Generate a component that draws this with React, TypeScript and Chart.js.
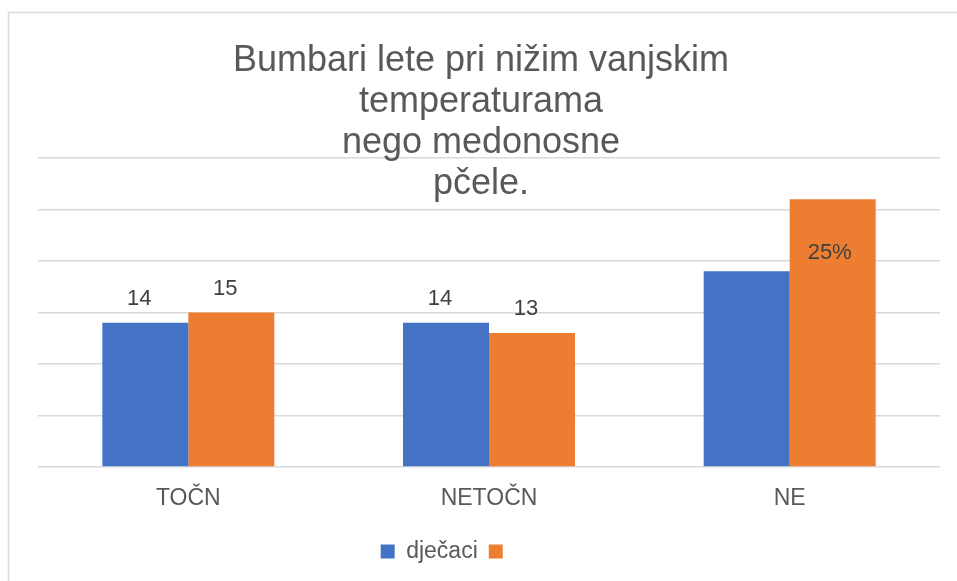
import React, { useEffect, useRef } from "react";
import { Chart, registerables } from "chart.js";

Chart.register(...registerables);

const categories = ["TOČN", "NETOČN", "NE"];
const seriesNames = ["dječaci", "             "];
const boysValues = [14, 14, 19];
const otherValues = [15, 13, 26];
const boysLabels = ["14", "14", ""];
const otherLabels = ["15", "13", "25%"];
const titleLines = ["Bumbari lete pri nižim vanjskim", "temperaturama", "nego medonosne", "pčele."];
const yTicks = [0, 5, 10, 15, 20, 25, 30];

const FONT = "'Liberation Sans', Arial, sans-serif";

export default function App() {
  const ref = useRef<HTMLCanvasElement | null>(null);
  useEffect(() => {
    if (!ref.current) return;
    const framePlugin = {
      id: "frame",
      beforeDraw(chart: any) {
        const ctx = chart.ctx;
        ctx.save();
        ctx.strokeStyle = "#d9d9d9";
        ctx.lineWidth = 1.5;
        ctx.strokeRect(8.5, 12.5, 2000, 2000);
        ctx.restore();
      },
    };
    const titlePlugin = {
      id: "titleLines",
      afterDraw(chart: any) {
        const ctx = chart.ctx;
        ctx.save();
        ctx.fillStyle = "#595959";
        ctx.font = `36px ${FONT}`;
        ctx.textAlign = "center";
        ctx.textBaseline = "alphabetic";
        titleLines.forEach((t, i) => {
          ctx.fillText(t, 481, 71 + i * 41);
        });
        ctx.restore();
      },
    };
    const labelPlugin = {
      id: "barLabels",
      afterDatasetsDraw(chart: any) {
        const ctx = chart.ctx;
        ctx.save();
        ctx.font = `22px ${FONT}`;
        ctx.fillStyle = "#404040";
        ctx.textAlign = "center";
        ctx.textBaseline = "alphabetic";
        const sets = [boysLabels, otherLabels];
        sets.forEach((labels, di) => {
          const meta = chart.getDatasetMeta(di);
          meta.data.forEach((bar: any, i: number) => {
            const txt = labels[i];
            if (!txt) return;
            const inside = txt.includes("%");
            const y = inside ? bar.y + 60 : bar.y - 18;
            const x = inside ? bar.x - 3 : bar.x - 6;
            ctx.fillText(txt, x, y);
          });
        });
        ctx.restore();
      },
    };
    const chart = new Chart(ref.current, {
      type: "bar",
      data: {
        labels: categories,
        datasets: [
          {
            label: seriesNames[0],
            data: boysValues,
            backgroundColor: "#4472C4",
            categoryPercentage: 0.572,
            barPercentage: 1,
          },
          {
            label: seriesNames[1],
            data: otherValues,
            backgroundColor: "#ED7D31",
            categoryPercentage: 0.572,
            barPercentage: 1,
          },
        ],
      },
      options: {
        animation: false,
        responsive: false,
        maintainAspectRatio: false,
        layout: { padding: { top: 158, left: 38, right: 17, bottom: 8 } },
        plugins: {
          title: { display: false },
          tooltip: { enabled: false },
          legend: {
            display: true,
            position: "bottom",
            labels: {
              boxWidth: 14,
              boxHeight: 14,
              padding: 11,
              color: "#595959",
              font: { size: 23, family: FONT },
            },
          },
        },
        scales: {
          x: {
            grid: { display: false, drawTicks: false },
            border: { display: false },
            ticks: {
              color: "#595959",
              font: { size: 23, family: FONT },
              padding: 18,
            },
            afterFit(scale: any) {
              scale.height = 62;
            },
          },
          y: {
            min: 0,
            max: 30,
            afterBuildTicks(scale: any) {
              scale.ticks = yTicks.map((v) => ({ value: v }));
            },
            ticks: { display: false },
            grid: { color: "#d9d9d9", lineWidth: 1.5, drawTicks: false },
            border: { display: false },
            afterFit(scale: any) {
              scale.width = 0;
            },
          },
        },
      },
      plugins: [framePlugin, titlePlugin, labelPlugin],
    });
    return () => chart.destroy();
  }, []);
  return (
    <div style={{ position: "fixed", left: 0, top: 0, width: 957, height: 581, background: "#fff" }}>
      <canvas ref={ref} width={957} height={581} style={{ width: 957, height: 581 }} />
    </div>
  );
}
